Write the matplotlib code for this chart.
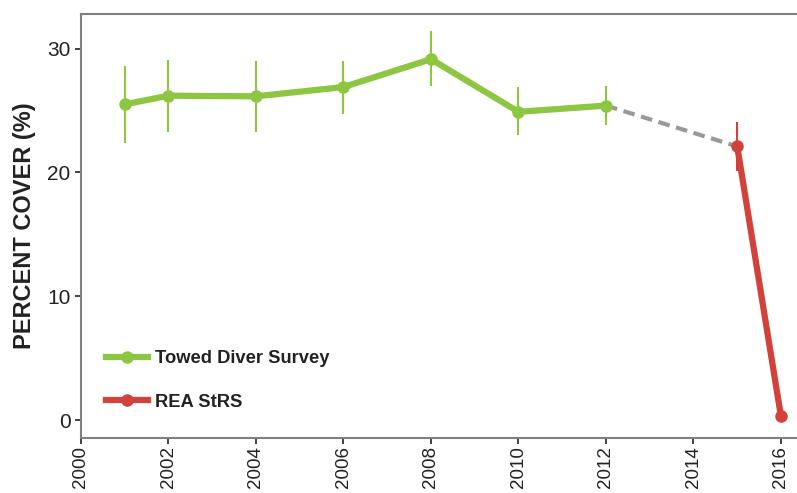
import matplotlib
matplotlib.use("Agg")
import matplotlib.pyplot as plt
from matplotlib import font_manager

# towed diver survey
tow_year = [2001, 2002, 2004, 2006, 2008, 2010, 2012]
tow_cover = [25.5, 26.2, 26.15, 26.9, 29.15, 24.9, 25.4]
tow_lo = [22.35, 23.3, 23.3, 24.7, 27.0, 23.0, 23.8]
tow_hi = [28.6, 29.1, 29.0, 29.0, 31.4, 26.9, 27.0]

# REA StRS
rea_year = [2015, 2016]
rea_cover = [22.1, 0.3]
rea_lo = [20.1, 0.3]
rea_hi = [24.1, 0.3]

# gap between the two methods
gap_year = [2012, 2015]
gap_cover = [25.4, 22.1]

narrow = "Liberation Sans Narrow"
names = [f.name for f in font_manager.fontManager.ttflist]
if narrow not in names:
    narrow = "Liberation Sans"

green = "#8dc641"
red = "#d2423b"
grey = "#7f7f7f"

fig = plt.figure(figsize=(7.97, 4.93), dpi=100)
ax = fig.add_axes([0.1016, 0.1116, 0.92, 0.86])

ax.plot(gap_year, gap_cover, color="#999999", lw=3, ls=(0, (2.8, 1.6)), zorder=1)

ax.vlines(tow_year, tow_lo, tow_hi, color=green, lw=1.5, zorder=2)
ax.plot(tow_year, tow_cover, color=green, lw=4.5, marker="o", ms=8,
        label="Towed Diver Survey", zorder=3)

ax.vlines(rea_year, rea_lo, rea_hi, color=red, lw=1.5, zorder=2)
ax.plot(rea_year, rea_cover, color=red, lw=4.5, marker="o", ms=8,
        label="REA StRS", zorder=3)

ax.set_xlim(2000, 2016.76)
ax.set_ylim(-1.45, 32.8)
ax.set_xticks(range(2000, 2017, 2))
ax.set_yticks([0, 10, 20, 30])

for s in ax.spines.values():
    s.set_color(grey)
    s.set_linewidth(1.5)
ax.tick_params(colors="#222222", width=1.2, length=4, labelsize=15)
ax.tick_params(axis="x", labelsize=13.5, pad=2)
for lab in ax.get_xticklabels():
    lab.set_rotation(90)
    lab.set_fontfamily(narrow)
for lab in ax.get_yticklabels():
    lab.set_fontfamily(narrow)

ax.set_ylabel("PERCENT COVER (%)", fontsize=17, fontweight="bold",
              family="Liberation Sans", color="#222222", labelpad=8)

leg = ax.legend(loc="lower left", bbox_to_anchor=(0.012, 0.025), frameon=False,
                prop={"family": "Liberation Sans", "weight": "bold", "size": 13.2},
                handlelength=2.3, handletextpad=0.35, labelspacing=1.45)
for t in leg.get_texts():
    t.set_color("#222222")

fig.savefig("out.png", dpi=100)
